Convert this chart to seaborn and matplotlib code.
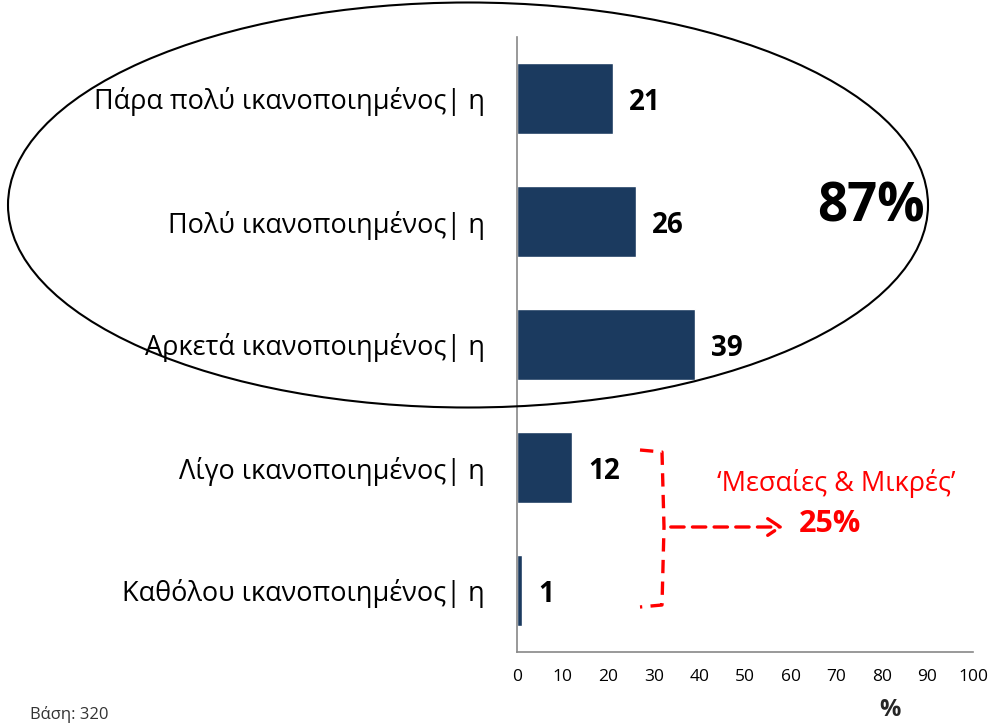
import matplotlib
matplotlib.use("Agg")
import matplotlib.pyplot as plt
import seaborn as sns
import pandas as pd
from matplotlib.patches import Ellipse, FancyArrowPatch
from matplotlib.lines import Line2D

categories = ["Πάρα πολύ ικανοποιημένος| η", "Πολύ ικανοποιημένος| η",
              "Αρκετά ικανοποιημένος| η", "Λίγο ικανοποιημένος| η",
              "Καθόλου ικανοποιημένος| η"]
values = [21, 26, 39, 12, 1]
xticks = [0, 10, 20, 30, 40, 50, 60, 70, 80, 90, 100]

sns.set_theme(style="white")
plt.rcParams['font.family'] = ['Open Sans', 'DejaVu Sans']
plt.rcParams['text.color'] = 'black'
plt.rcParams['xtick.color'] = 'black'
plt.rcParams['ytick.color'] = 'black'

df = pd.DataFrame({"cat": categories, "val": values})
fig = plt.figure(figsize=(9.88, 7.24), dpi=100)
ax = fig.add_axes([517/988, 1-652/724, (973-517)/988, (652-37)/724])
sns.barplot(data=df, y="cat", x="val", color="#1b3a5f", width=0.57, ax=ax, saturation=1)
ax.set_xlim(0, 100)
ax.set_ylim(4.5, -0.5)
ax.set_xticks(xticks)
ax.set_xticklabels([str(t) for t in xticks], fontsize=12.5)
ax.tick_params(axis='x', length=0, pad=12)
ax.tick_params(axis='y', length=0, pad=23)
ax.set_yticks(range(len(categories)))
ax.set_yticklabels(categories, fontsize=19.5)
ax.set_xlabel("%", fontsize=17, fontweight="bold", labelpad=0)
ax.xaxis.set_label_coords((890-517)/(973-517), -0.075)
ax.set_ylabel("")
for s in ["top", "right"]:
    ax.spines[s].set_visible(False)
for s in ["left", "bottom"]:
    ax.spines[s].set_color("#888888")
    ax.spines[s].set_linewidth(1.2)

for i, v in enumerate(values):
    ax.text(v + 3.6, i + 0.03, str(v), va="center", ha="left", fontsize=20, fontweight="bold", color="black")

def fx(px): return px/988
def fy(py): return 1-py/724

# Ellipse
ell = Ellipse((fx(468), fy(205)), 920/988, 405/724, transform=fig.transFigure,
              fill=False, edgecolor="black", linewidth=1.5, zorder=5)
fig.add_artist(ell)
fig.text(fx(871), fy(208), "87%", fontsize=38, fontweight="bold", ha="center", va="center", color="black")

# Red bracket
br = Line2D([fx(640), fx(662), fx(664), fx(662), fx(640)],
            [fy(450), fy(452), fy(527), fy(605), fy(607)],
            transform=fig.transFigure, color="red", linewidth=2.4, linestyle=(0, (4, 2.5)))
fig.add_artist(br)
arr = FancyArrowPatch((fx(668), fy(527)), (fx(786), fy(527)), transform=fig.transFigure,
                      arrowstyle="->,head_length=9,head_width=6", color="red", linewidth=2.4,
                      linestyle=(0, (4, 2.5)), mutation_scale=1)
fig.add_artist(arr)
fig.text(fx(836), fy(483), "‘Μεσαίες & Μικρές’", color="red", fontsize=19.5, ha="center", va="center")
fig.text(fx(830), fy(524), "25%", color="red", fontsize=22, fontweight="bold", ha="center", va="center")

fig.text(fx(30), fy(723), "Βάση: 320", fontsize=12, color="#333333", ha="left", va="bottom")

fig.savefig("out.png", dpi=100)
